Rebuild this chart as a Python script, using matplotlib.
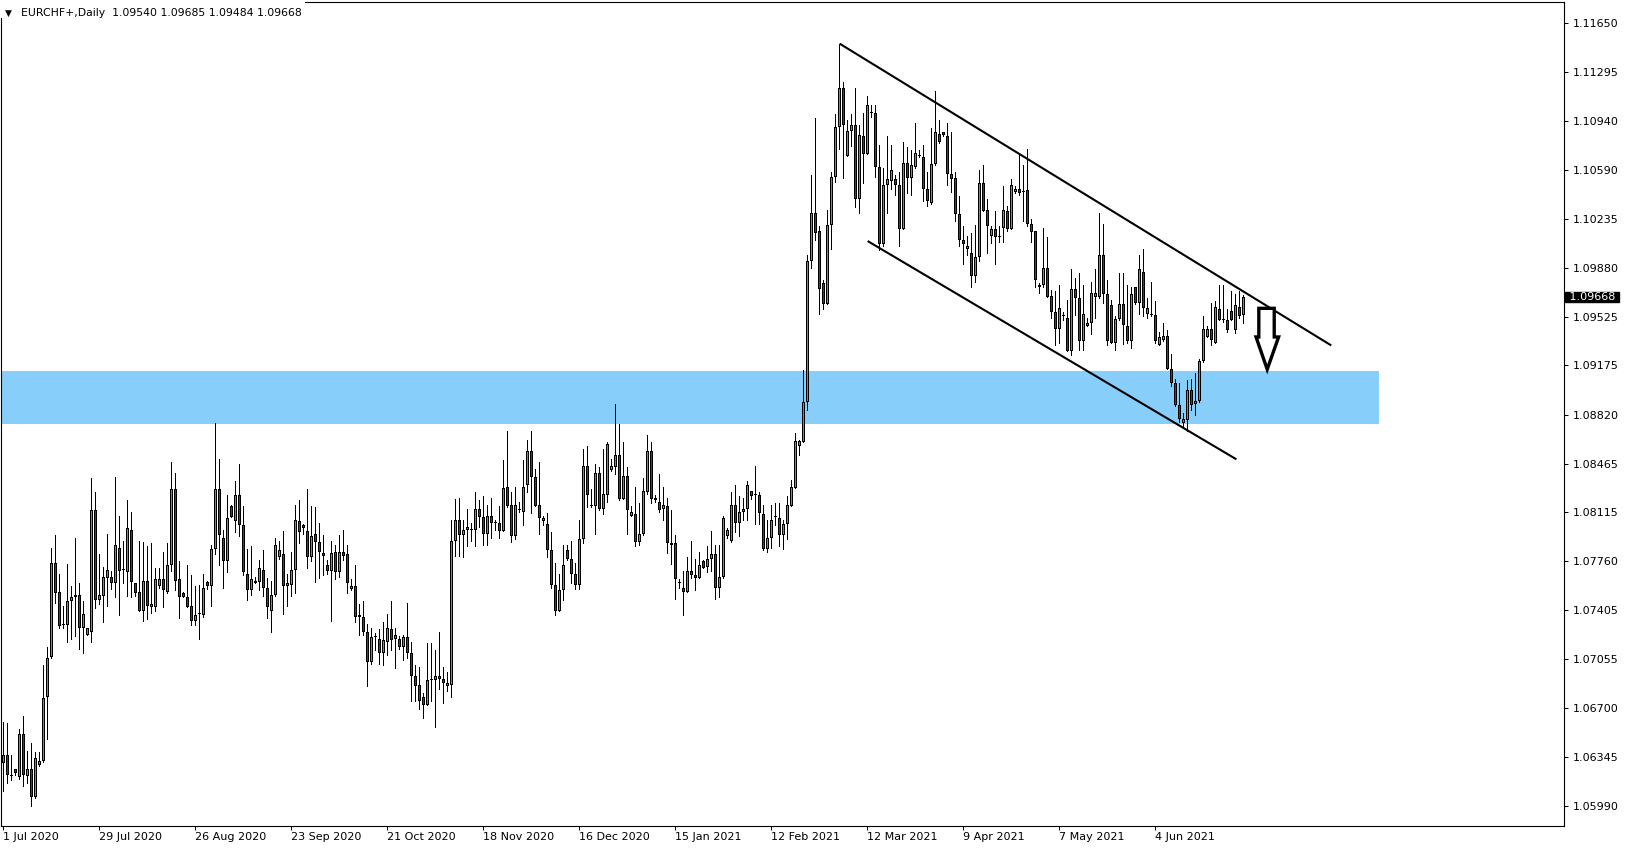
import matplotlib
matplotlib.use("Agg")
import matplotlib.pyplot as plt
from matplotlib.patches import Rectangle, Polygon
import numpy as np

# ---------------- data ----------------
symbol_title = "EURCHF+,Daily"

open_ = [
    1.0630, 1.0636, 1.0622, 1.0626, 1.0620, 1.0651, 1.0621, 1.0626, 1.0606, 1.0629,
    1.0632, 1.0678, 1.0707, 1.0775, 1.0754, 1.0730, 1.0730, 1.0747, 1.0750, 1.0752,
    1.0728, 1.0723, 1.0725, 1.0813, 1.0748, 1.0751, 1.0764, 1.0765, 1.0760, 1.0786,
    1.0770, 1.0768, 1.0799, 1.0760, 1.0754, 1.0740, 1.0762, 1.0743, 1.0743, 1.0758,
    1.0763, 1.0754, 1.0773, 1.0828, 1.0763, 1.0753, 1.0750, 1.0744, 1.0733, 1.0738,
    1.0737, 1.0761, 1.0758, 1.0785, 1.0828, 1.0793, 1.0776, 1.0816, 1.0805, 1.0824,
    1.0802, 1.0767, 1.0755, 1.0762, 1.0761, 1.0770, 1.0757, 1.0740, 1.0752, 1.0779,
    1.0781, 1.0758, 1.0759, 1.0770, 1.0805, 1.0802, 1.0798, 1.0779, 1.0796, 1.0790,
    1.0782, 1.0773, 1.0769, 1.0783, 1.0768, 1.0783, 1.0781, 1.0756, 1.0758, 1.0737,
    1.0736, 1.0725, 1.0703, 1.0721, 1.0720, 1.0710, 1.0718, 1.0727, 1.0720, 1.0720,
    1.0714, 1.0721, 1.0710, 1.0693, 1.0687, 1.0678, 1.0672, 1.0690, 1.0690, 1.0693,
    1.0691, 1.0686, 1.0687, 1.0791, 1.0806, 1.0795, 1.0799, 1.0799, 1.0799, 1.0814,
    1.0808, 1.0796, 1.0809, 1.0804, 1.0804, 1.0798, 1.0830, 1.0817, 1.0794, 1.0814,
    1.0812, 1.0831, 1.0856, 1.0837, 1.0817, 1.0805, 1.0803, 1.0784, 1.0759, 1.0740,
    1.0755, 1.0784, 1.0778, 1.0767, 1.0759, 1.0792, 1.0845, 1.0817, 1.0816, 1.0840,
    1.0814, 1.0824, 1.0842, 1.0844, 1.0853, 1.0821, 1.0838, 1.0809, 1.0810, 1.0790,
    1.0796, 1.0826, 1.0856, 1.0822, 1.0819, 1.0814, 1.0816, 1.0789, 1.0789, 1.0760,
    1.0757, 1.0754, 1.0769, 1.0766, 1.0764, 1.0776, 1.0772, 1.0778, 1.0781, 1.0757,
    1.0765, 1.0794, 1.0791, 1.0817, 1.0804, 1.0812, 1.0814, 1.0827, 1.0824, 1.0824,
    1.0810, 1.0785, 1.0793, 1.0808, 1.0807, 1.0795, 1.0803, 1.0816, 1.0829, 1.0859,
    1.0862, 1.0891, 1.0993, 1.1028, 1.1015, 1.0977, 1.0962, 1.1019, 1.1054, 1.1090,
    1.1118, 1.1069, 1.1087, 1.1091, 1.1038, 1.1083, 1.1070, 1.1100, 1.1100, 1.1061,
    1.1005, 1.1048, 1.1051, 1.1052, 1.1048, 1.1016, 1.1064, 1.1053, 1.1061, 1.1069,
    1.1068, 1.1045, 1.1035, 1.1063, 1.1085, 1.1086, 1.1083, 1.1056, 1.1053, 1.1027,
    1.1008, 1.1002, 1.0999, 1.0982, 1.0996, 1.1049, 1.1030, 1.1011, 1.1016, 1.1011,
    1.1017, 1.1029, 1.1016, 1.1043, 1.1045, 1.1043, 1.1044, 1.1020, 1.1015, 1.0974,
    1.0976, 1.0988, 1.0968, 1.0956, 1.0944, 1.0953, 1.0952, 1.0928, 1.0973, 1.0966,
    1.0935, 1.0946, 1.0948, 1.0967, 1.0967, 1.0997, 1.0969, 1.0961, 1.0934, 1.0951,
    1.0962, 1.0946, 1.0935, 1.0974, 1.0963, 1.0985, 1.0955, 1.0955, 1.0954, 1.0932,
    1.0936, 1.0939, 1.0915, 1.0905, 1.0889, 1.0876, 1.0878, 1.0900, 1.0890, 1.0892,
    1.0921, 1.0938, 1.0944, 1.0934, 1.0958, 1.0950, 1.0950, 1.0957, 1.0943, 1.0960,
    1.09540,
]

high = [
    1.0660, 1.0659, 1.0636, 1.0626, 1.0655, 1.0664, 1.0639, 1.0645, 1.0638, 1.0638,
    1.0701, 1.0714, 1.0786, 1.0795, 1.0767, 1.0744, 1.0774, 1.0758, 1.0793, 1.0760,
    1.0747, 1.0728, 1.0836, 1.0826, 1.0781, 1.0772, 1.0796, 1.0769, 1.0837, 1.0809,
    1.0791, 1.0820, 1.0812, 1.0760, 1.0791, 1.0790, 1.0787, 1.0789, 1.0771, 1.0771,
    1.0783, 1.0789, 1.0848, 1.0840, 1.0776, 1.0754, 1.0773, 1.0766, 1.0758, 1.0759,
    1.0767, 1.0762, 1.0788, 1.0876, 1.0850, 1.0799, 1.0824, 1.0817, 1.0834, 1.0846,
    1.0816, 1.0785, 1.0787, 1.0765, 1.0777, 1.0784, 1.0764, 1.0762, 1.0793, 1.0791,
    1.0798, 1.0767, 1.0783, 1.0817, 1.0820, 1.0803, 1.0828, 1.0816, 1.0815, 1.0804,
    1.0795, 1.0777, 1.0791, 1.0788, 1.0795, 1.0799, 1.0788, 1.0763, 1.0773, 1.0745,
    1.0747, 1.0731, 1.0728, 1.0724, 1.0727, 1.0732, 1.0738, 1.0747, 1.0728, 1.0722,
    1.0723, 1.0746, 1.0718, 1.0701, 1.0700, 1.0681, 1.0717, 1.0717, 1.0712, 1.0725,
    1.0700, 1.0696, 1.0806, 1.0821, 1.0822, 1.0806, 1.0814, 1.0804, 1.0826, 1.0820,
    1.0823, 1.0817, 1.0822, 1.0806, 1.0816, 1.0849, 1.0870, 1.0826, 1.0830, 1.0819,
    1.0849, 1.0864, 1.0870, 1.0843, 1.0848, 1.0809, 1.0811, 1.0797, 1.0775, 1.0767,
    1.0788, 1.0788, 1.0791, 1.0775, 1.0806, 1.0857, 1.0859, 1.0828, 1.0846, 1.0844,
    1.0857, 1.0862, 1.0850, 1.0890, 1.0875, 1.0862, 1.0844, 1.0816, 1.0830, 1.0818,
    1.0836, 1.0867, 1.0862, 1.0824, 1.0839, 1.0830, 1.0822, 1.0813, 1.0795, 1.0763,
    1.0769, 1.0779, 1.0791, 1.0778, 1.0783, 1.0777, 1.0787, 1.0798, 1.0788, 1.0788,
    1.0809, 1.0800, 1.0826, 1.0831, 1.0823, 1.0822, 1.0834, 1.0827, 1.0845, 1.0826,
    1.0817, 1.0806, 1.0817, 1.0818, 1.0818, 1.0806, 1.0823, 1.0835, 1.0869, 1.0864,
    1.0914, 1.0997, 1.1055, 1.1096, 1.1018, 1.0979, 1.1030, 1.1057, 1.1099, 1.1150,
    1.1122, 1.1095, 1.1099, 1.1118, 1.1091, 1.1100, 1.1112, 1.1106, 1.1106, 1.1077,
    1.1060, 1.1083, 1.1077, 1.1055, 1.1057, 1.1079, 1.1075, 1.1073, 1.1093, 1.1073,
    1.1077, 1.1057, 1.1089, 1.1116, 1.1095, 1.1086, 1.1093, 1.1086, 1.1057, 1.1040,
    1.1018, 1.1011, 1.1013, 1.1019, 1.1059, 1.1062, 1.1038, 1.1018, 1.1029, 1.1018,
    1.1047, 1.1033, 1.1052, 1.1047, 1.1070, 1.1062, 1.1074, 1.1023, 1.1015, 1.0977,
    1.1017, 1.1010, 1.0972, 1.0971, 1.0976, 1.0956, 1.0965, 1.0987, 1.0981, 1.0984,
    1.0976, 1.0952, 1.0978, 1.0987, 1.1028, 1.1020, 1.0979, 1.0965, 1.0953, 1.0984,
    1.0984, 1.0976, 1.0974, 1.0974, 1.0997, 1.1002, 1.0966, 1.0978, 1.0964, 1.0942,
    1.0948, 1.0943, 1.0926, 1.0908, 1.0905, 1.0883, 1.0907, 1.0908, 1.0912, 1.0922,
    1.0953, 1.0946, 1.0963, 1.0964, 1.0976, 1.0976, 1.0958, 1.0971, 1.0969, 1.0971,
    1.09685,
]

low = [
    1.0610, 1.0616, 1.0618, 1.0622, 1.0619, 1.0614, 1.0616, 1.0599, 1.0605, 1.0628,
    1.0631, 1.0648, 1.0706, 1.0746, 1.0728, 1.0728, 1.0718, 1.0720, 1.0722, 1.0713,
    1.0710, 1.0723, 1.0718, 1.0742, 1.0745, 1.0732, 1.0744, 1.0756, 1.0750, 1.0737,
    1.0760, 1.0751, 1.0750, 1.0751, 1.0740, 1.0733, 1.0734, 1.0739, 1.0740, 1.0757,
    1.0743, 1.0753, 1.0769, 1.0755, 1.0735, 1.0750, 1.0743, 1.0730, 1.0730, 1.0720,
    1.0736, 1.0756, 1.0744, 1.0781, 1.0773, 1.0757, 1.0768, 1.0808, 1.0797, 1.0794,
    1.0766, 1.0748, 1.0752, 1.0760, 1.0755, 1.0751, 1.0735, 1.0725, 1.0751, 1.0778,
    1.0738, 1.0744, 1.0751, 1.0753, 1.0789, 1.0796, 1.0771, 1.0776, 1.0761, 1.0764,
    1.0766, 1.0767, 1.0733, 1.0763, 1.0765, 1.0777, 1.0753, 1.0755, 1.0732, 1.0723,
    1.0723, 1.0686, 1.0702, 1.0712, 1.0702, 1.0701, 1.0708, 1.0712, 1.0699, 1.0713,
    1.0705, 1.0706, 1.0675, 1.0675, 1.0669, 1.0663, 1.0672, 1.0675, 1.0656, 1.0684,
    1.0674, 1.0682, 1.0678, 1.0780, 1.0780, 1.0779, 1.0787, 1.0791, 1.0787, 1.0801,
    1.0788, 1.0788, 1.0793, 1.0799, 1.0793, 1.0798, 1.0815, 1.0790, 1.0792, 1.0812,
    1.0802, 1.0826, 1.0811, 1.0816, 1.0796, 1.0802, 1.0779, 1.0757, 1.0737, 1.0740,
    1.0748, 1.0777, 1.0760, 1.0756, 1.0756, 1.0789, 1.0815, 1.0815, 1.0796, 1.0813,
    1.0810, 1.0819, 1.0841, 1.0839, 1.0820, 1.0821, 1.0796, 1.0809, 1.0787, 1.0788,
    1.0795, 1.0825, 1.0818, 1.0819, 1.0812, 1.0806, 1.0782, 1.0774, 1.0749, 1.0757,
    1.0737, 1.0754, 1.0764, 1.0755, 1.0764, 1.0771, 1.0768, 1.0769, 1.0749, 1.0750,
    1.0764, 1.0793, 1.0790, 1.0797, 1.0794, 1.0806, 1.0806, 1.0821, 1.0803, 1.0803,
    1.0784, 1.0783, 1.0786, 1.0802, 1.0787, 1.0785, 1.0792, 1.0816, 1.0829, 1.0853,
    1.0862, 1.0885, 1.0988, 1.1008, 1.0955, 1.0958, 1.0962, 1.1002, 1.1050, 1.1074,
    1.1053, 1.1069, 1.1076, 1.1032, 1.1028, 1.1049, 1.1070, 1.1097, 1.1054, 1.1001,
    1.1004, 1.1028, 1.1045, 1.1041, 1.1004, 1.1016, 1.1042, 1.1041, 1.1060, 1.1068,
    1.1036, 1.1033, 1.1034, 1.1062, 1.1078, 1.1083, 1.1048, 1.1043, 1.1022, 1.1004,
    1.0991, 1.0997, 1.0974, 1.0978, 1.0993, 1.1029, 1.0999, 1.1006, 1.0991, 1.1007,
    1.1007, 1.1015, 1.1016, 1.1042, 1.1041, 1.1022, 1.1018, 1.1007, 1.0974, 1.0970,
    1.0974, 1.0967, 1.0952, 1.0932, 1.0934, 1.0950, 1.0928, 1.0925, 1.0954, 1.0929,
    1.0929, 1.0946, 1.0940, 1.0952, 1.0966, 1.0963, 1.0932, 1.0934, 1.0929, 1.0950,
    1.0933, 1.0934, 1.0930, 1.0962, 1.0955, 1.0953, 1.0952, 1.0953, 1.0934, 1.0932,
    1.0935, 1.0915, 1.0903, 1.0888, 1.0877, 1.0873, 1.0870, 1.0885, 1.0882, 1.0891,
    1.0920, 1.0938, 1.0932, 1.0934, 1.0950, 1.0949, 1.0942, 1.0950, 1.0941, 1.0952,
    1.09484,
]

close = [
    1.0636, 1.0622, 1.0621, 1.0623, 1.0651, 1.0622, 1.0626, 1.0606, 1.0634, 1.0632,
    1.0677, 1.0706, 1.0775, 1.0753, 1.0729, 1.0730, 1.0747, 1.0750, 1.0752, 1.0728,
    1.0738, 1.0728, 1.0813, 1.0748, 1.0752, 1.0765, 1.0770, 1.0760, 1.0788, 1.0769,
    1.0770, 1.0800, 1.0761, 1.0753, 1.0740, 1.0762, 1.0744, 1.0745, 1.0763, 1.0763,
    1.0755, 1.0773, 1.0828, 1.0762, 1.0750, 1.0750, 1.0743, 1.0733, 1.0737, 1.0738,
    1.0757, 1.0758, 1.0785, 1.0828, 1.0795, 1.0776, 1.0807, 1.0808, 1.0824, 1.0802,
    1.0768, 1.0755, 1.0763, 1.0760, 1.0771, 1.0757, 1.0743, 1.0752, 1.0788, 1.0784,
    1.0758, 1.0760, 1.0770, 1.0806, 1.0797, 1.0800, 1.0779, 1.0794, 1.0790, 1.0783,
    1.0780, 1.0769, 1.0782, 1.0768, 1.0783, 1.0780, 1.0760, 1.0758, 1.0736, 1.0736,
    1.0725, 1.0703, 1.0721, 1.0721, 1.0710, 1.0719, 1.0728, 1.0719, 1.0723, 1.0714,
    1.0721, 1.0710, 1.0693, 1.0686, 1.0675, 1.0672, 1.0690, 1.0690, 1.0693, 1.0691,
    1.0688, 1.0688, 1.0791, 1.0806, 1.0795, 1.0799, 1.0801, 1.0799, 1.0814, 1.0808,
    1.0796, 1.0809, 1.0804, 1.0804, 1.0798, 1.0829, 1.0816, 1.0794, 1.0817, 1.0813,
    1.0830, 1.0856, 1.0837, 1.0816, 1.0807, 1.0807, 1.0784, 1.0759, 1.0740, 1.0755,
    1.0773, 1.0778, 1.0767, 1.0759, 1.0792, 1.0845, 1.0824, 1.0816, 1.0840, 1.0814,
    1.0825, 1.0861, 1.0845, 1.0853, 1.0821, 1.0838, 1.0813, 1.0812, 1.0790, 1.0796,
    1.0827, 1.0856, 1.0821, 1.0820, 1.0813, 1.0817, 1.0789, 1.0788, 1.0763, 1.0760,
    1.0754, 1.0769, 1.0766, 1.0764, 1.0773, 1.0771, 1.0778, 1.0781, 1.0757, 1.0765,
    1.0807, 1.0799, 1.0817, 1.0804, 1.0812, 1.0814, 1.0831, 1.0823, 1.0824, 1.0811,
    1.0785, 1.0793, 1.0806, 1.0808, 1.0795, 1.0803, 1.0817, 1.0830, 1.0863, 1.0863,
    1.0891, 1.0993, 1.1028, 1.1013, 1.0973, 1.0962, 1.1019, 1.1054, 1.1090, 1.1118,
    1.1091, 1.1087, 1.1091, 1.1038, 1.1084, 1.1070, 1.1106, 1.1100, 1.1061, 1.1005,
    1.1048, 1.1052, 1.1059, 1.1048, 1.1016, 1.1064, 1.1053, 1.1062, 1.1071, 1.1069,
    1.1045, 1.1036, 1.1063, 1.1086, 1.1079, 1.1084, 1.1056, 1.1052, 1.1027, 1.1008,
    1.1005, 1.1004, 1.0982, 1.0996, 1.1049, 1.1029, 1.1018, 1.1016, 1.1010, 1.1010,
    1.1030, 1.1016, 1.1048, 1.1045, 1.1042, 1.1043, 1.1020, 1.1014, 1.0979, 1.0976,
    1.0988, 1.0967, 1.0956, 1.0944, 1.0959, 1.0953, 1.0928, 1.0973, 1.0966, 1.0935,
    1.0955, 1.0948, 1.0970, 1.0970, 1.0997, 1.0969, 1.0935, 1.0934, 1.0951, 1.0962,
    1.0947, 1.0935, 1.0969, 1.0963, 1.0987, 1.0959, 1.0959, 1.0954, 1.0935, 1.0938,
    1.0939, 1.0915, 1.0905, 1.0889, 1.0879, 1.0879, 1.0900, 1.0889, 1.0892, 1.0921,
    1.0944, 1.0944, 1.0936, 1.0960, 1.0950, 1.0950, 1.0943, 1.0950, 1.0961, 1.0953,
    1.09668,
]

date_labels = ["1 Jul 2020", "29 Jul 2020", "26 Aug 2020", "23 Sep 2020",
               "21 Oct 2020", "18 Nov 2020", "16 Dec 2020", "15 Jan 2021",
               "12 Feb 2021", "12 Mar 2021", "9 Apr 2021", "7 May 2021",
               "4 Jun 2021"]
bars_per_label = 24

price_ticks = [1.11650, 1.11295, 1.10940, 1.10590, 1.10235, 1.09880, 1.09525,
               1.09175, 1.08820, 1.08465, 1.08115, 1.07760, 1.07405, 1.07055,
               1.06700, 1.06345, 1.05990]

zone_low, zone_high = 1.08752, 1.09135
zone_end_bar = 343.9

upper_channel_x = [209.1, 332.0]
upper_channel_y = [1.1150, 1.0932]
lower_channel_x = [216.1, 308.3]
lower_channel_y = [1.10074, 1.08497]

arrow_x = [313.9, 317.75, 317.75, 318.85, 316.0, 313.2, 313.9]
arrow_y = [1.09588, 1.09588, 1.09381, 1.09381, 1.09147, 1.09381, 1.09381]

# ---------------- figure ----------------
W, H, DPI = 1629, 850, 100
GREEN = "#1ECC1E"
RED = "#E00000"
ZONE = "#87CEFA"
Y_MIN, Y_MAX = 1.05848, 1.11801
AX_H_PX = 824

fig = plt.figure(figsize=(W / DPI, H / DPI), dpi=DPI, facecolor="white")
ax = fig.add_axes([1 / W, 24 / H, 1563 / W, AX_H_PX / H])
ax.set_facecolor("white")

n = min(len(open_), len(high), len(low), len(close))
o = np.array(open_[:n]); hi = np.array(high[:n]); lo = np.array(low[:n]); c = np.array(close[:n])
x = np.arange(n)
up = c >= o
px = (Y_MAX - Y_MIN) / AX_H_PX   # one screen pixel in price units

# zone
ax.add_patch(Rectangle((-5, zone_low), zone_end_bar + 5, zone_high - zone_low,
                       facecolor=ZONE, edgecolor="none", zorder=1))

# candles: wick, black 3px body, 1px coloured core
ax.vlines(x, lo, hi, color="black", linewidth=0.72, antialiased=False, zorder=3)
b_lo = np.minimum(o, c)
b_hi = np.maximum(o, c)
b_h = np.maximum(b_hi - b_lo, px)
ax.bar(x, b_h, bottom=b_lo, width=0.75, color="black", linewidth=0,
       antialiased=False, zorder=4)
inner = (b_hi - b_lo) > 2.5 * px
cols = np.where(up, GREEN, RED)
ax.bar(x[inner], (b_hi - b_lo)[inner] - 2 * px, bottom=b_lo[inner] + px, width=0.25,
       color=cols[inner], linewidth=0, antialiased=False, zorder=5)

# channel lines
ax.plot(upper_channel_x, upper_channel_y, color="black", linewidth=1.5, zorder=6,
        solid_capstyle="butt")
ax.plot(lower_channel_x, lower_channel_y, color="black", linewidth=1.5, zorder=6,
        solid_capstyle="butt")

# arrow
ax.add_patch(Polygon(np.column_stack([arrow_x, arrow_y]), closed=True,
                     facecolor="white", edgecolor="black", linewidth=2.4,
                     joinstyle="miter", zorder=7))

ax.set_xlim(-0.58, 390.2)
ax.set_ylim(Y_MIN, Y_MAX)

for s in ax.spines.values():
    s.set_color("black")
    s.set_linewidth(0.8)

ax.yaxis.tick_right()
ax.set_yticks(price_ticks)
ax.set_yticklabels([f"{v:.5f}" for v in price_ticks])
ax.tick_params(axis="y", direction="out", length=3, width=0.75, pad=3,
               labelsize=8, colors="black")

xt = np.arange(len(date_labels)) * bars_per_label
ax.set_xticks(xt)
ax.set_xticklabels(date_labels)
for lbl in ax.get_xticklabels():
    lbl.set_ha("left")
ax.tick_params(axis="x", direction="out", length=3, width=0.75, pad=1.5,
               labelsize=8, colors="black")

# current price box
ax.annotate(f" {c[-1]:.5f} ", xy=(1.0, c[-1]),
            xycoords=("axes fraction", "data"),
            xytext=(1.2, 0), textcoords="offset points",
            ha="left", va="center", fontsize=8, color="white",
            bbox=dict(boxstyle="square,pad=0.02", facecolor="black", edgecolor="black"),
            annotation_clip=False, zorder=10)

# header (white box hides the frame under it)
fig.patches.append(Rectangle((0, 1 - 18 / H), 305 / W, 18 / H, transform=fig.transFigure,
                             facecolor="white", edgecolor="none", zorder=20))
fig.text(5 / W, 1 - 13 / H, "\u25BC", fontsize=6.5, ha="left", va="center",
         color="black", zorder=21)
header = f"{symbol_title}  {o[-1]:.5f} {hi[-1]:.5f} {lo[-1]:.5f} {c[-1]:.5f}"
fig.text(21 / W, 1 - 13 / H, header, fontsize=7.8, ha="left", va="center",
         color="black", zorder=21)

fig.savefig("out.png", dpi=DPI, facecolor="white")
